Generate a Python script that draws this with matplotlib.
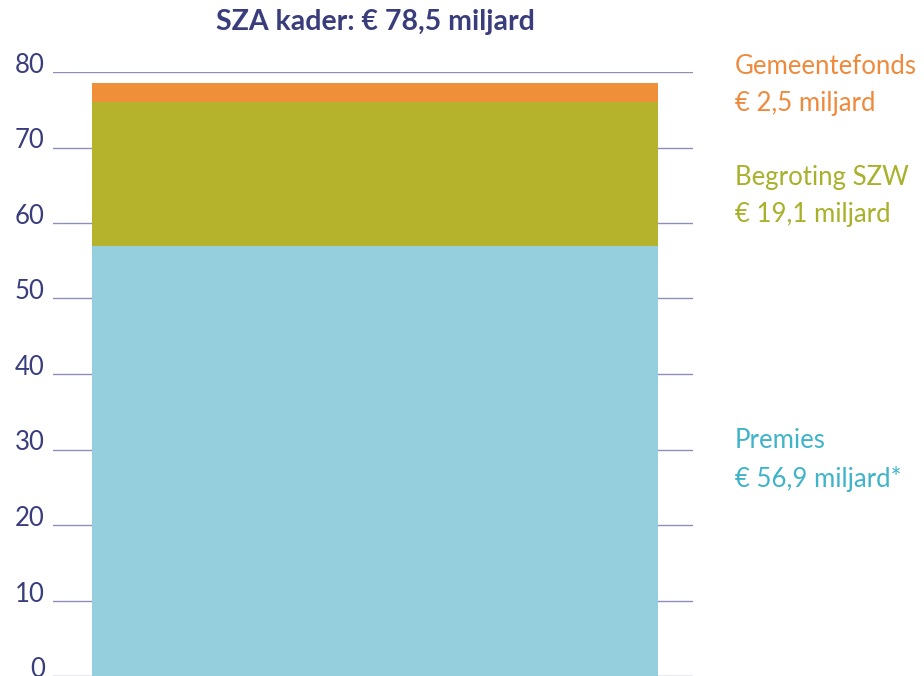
import matplotlib
matplotlib.use("Agg")
from matplotlib import pyplot as plt
from matplotlib.transforms import ScaledTranslation

# data (miljard euro)
segments = ["Premies", "Begroting SZW", "Gemeentefonds"]
values = [56.9, 19.1, 2.5]
colors = ["#95cfdd", "#b5b22b", "#f08f3a"]
text_colors = ["#3fb4c8", "#a9b02a", "#ef8a3c"]
labels = ["Premies\n€ 56,9 miljard*", "Begroting SZW\n€ 19,1 miljard", "Gemeentefonds\n€ 2,5 miljard"]
label_y = [460, 196, 85]  # pixel rows of label centres
yticks = [0, 10, 20, 30, 40, 50, 60, 70, 80]

navy = "#3a3d7c"
plt.rcParams["font.family"] = ["Lato", "DejaVu Sans"]

fig = plt.figure(figsize=(9.24, 6.76), dpi=100)
ax = fig.add_axes([53 / 924, 0, 640 / 924, 604 / 676])

bottom = 0
for v, c in zip(values, colors):
    ax.bar(0.503, v, width=0.884, bottom=bottom, color=c, zorder=3)
    bottom += v

ax.set_xlim(0, 1)
ax.set_ylim(0, 80)
ax.set_yticks(yticks)
ax.set_yticklabels([str(t) for t in yticks], fontsize=18.5, color=navy)
ax.tick_params(axis="y", length=0, pad=6)
ax.set_xticks([])
ax.grid(axis="y", color="#8c90b8", linewidth=1, zorder=1)
for s in ax.spines.values():
    s.set_visible(False)

# tick labels sit a little above their gridline
shift = ScaledTranslation(0, 9 / 100, fig.dpi_scale_trans)
for t in ax.get_yticklabels():
    t.set_transform(t.get_transform() + shift)

fig.text(375 / 924, 1 - 22 / 676, "SZA kader: € 78,5 miljard", ha="center", va="center",
         fontsize=20.5, fontweight="bold", color=navy)

for lab, y, c in zip(labels, label_y, text_colors):
    fig.text(735 / 924, 1 - y / 676, lab, ha="left", va="center", fontsize=18.5,
             color=c, linespacing=1.6)

fig.savefig("out.png", dpi=100)
